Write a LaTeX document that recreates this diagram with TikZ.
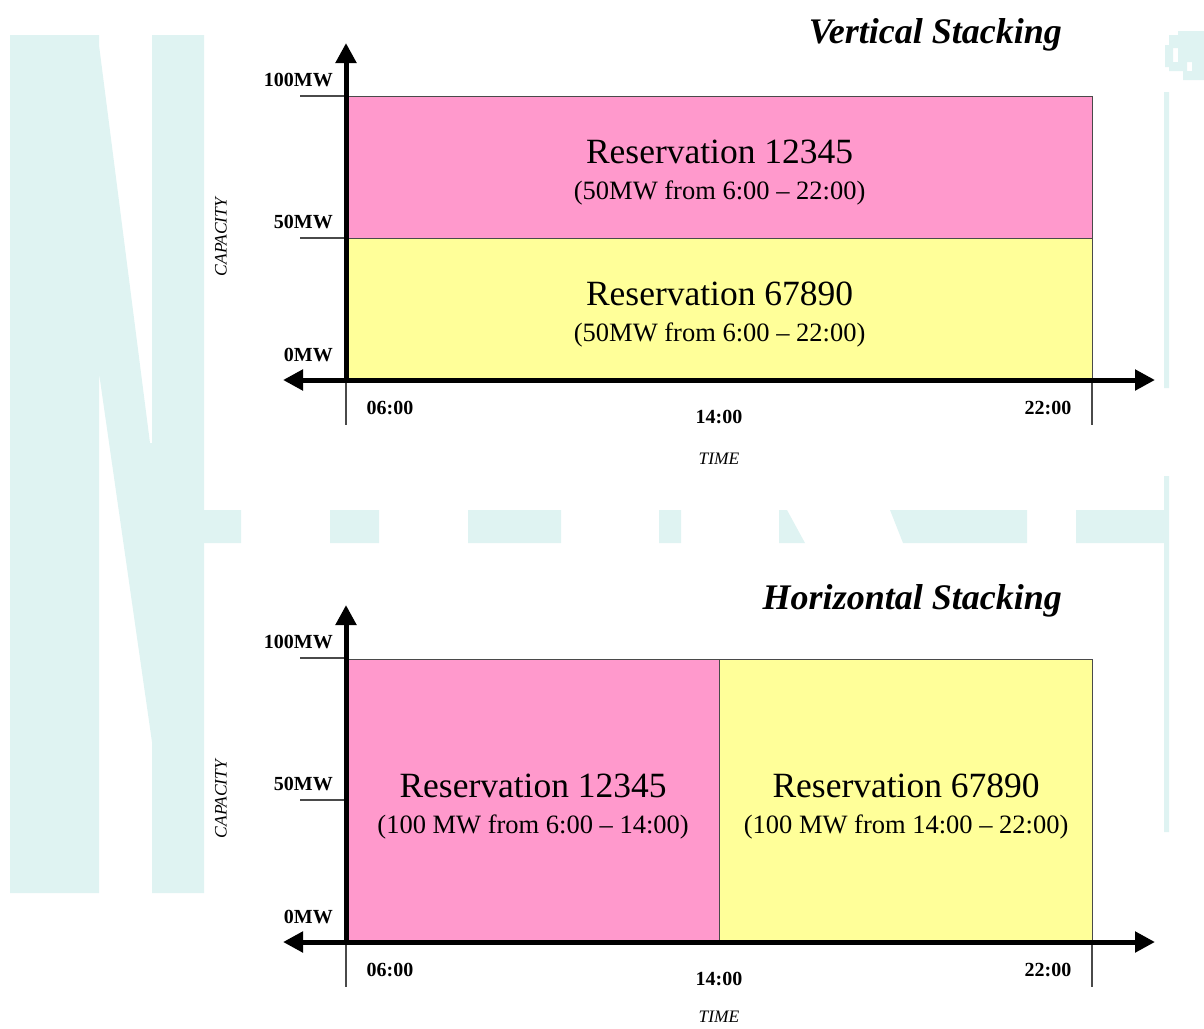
\documentclass[tikz,border=0pt]{standalone}
\usepackage{fontspec}
\setmainfont{Liberation Serif}
\usetikzlibrary{arrows.meta,positioning}
\definecolor{respink}{HTML}{FF99CC}
\definecolor{resyellow}{HTML}{FFFF99}
\definecolor{marklight}{HTML}{DFF3F2}
\definecolor{edgegray}{HTML}{4A4A4A}

\tikzset{
  axisline/.style={line width=5pt},
  tipend/.style={-{Triangle[length=20pt,width=20pt]}},
  tipboth/.style={{Triangle[length=20pt,width=20pt]}-{Triangle[length=20pt,width=20pt]}},
  tickline/.style={line width=1.1pt,edgegray},
  mwlabel/.style={anchor=east,inner sep=0pt,font=\fontsize{20}{24}\selectfont\bfseries},
  hourlabel/.style={inner sep=0pt,font=\fontsize{20}{24}\selectfont\bfseries},
  axislabel/.style={inner sep=0pt,font=\fontsize{17.5}{20}\selectfont\itshape},
  charttitle/.style={anchor=east,inner sep=0pt,font=\fontsize{36}{40}\selectfont\bfseries\itshape},
  resbox/.style={draw=edgegray,line width=1.2pt,inner sep=0pt,anchor=north west},
  restext/.style={align=center,inner sep=0pt,yshift=-5pt,font=\fontsize{35.5}{36}\selectfont},
}
\newcommand{\resspan}[1]{{\fontsize{26.5}{33}\selectfont #1}}

\begin{document}
\begin{tikzpicture}[x=1pt,y=-1pt]
  \useasboundingbox (0,0) rectangle (1204,1028);

  % faint mark behind the charts
  \fill[marklight] (10,35) -- (99,35) -- (99,45) -- (150,443) -- (152,443) -- (152,35)
    -- (204,35) -- (204,893) -- (152,893) -- (152,742) -- (99,373) -- (99,893) -- (10,893) -- cycle;
  \fill[marklight] (204,510) rectangle (241,543) (330,510) rectangle (379,543)
    (468,510) rectangle (561,543) (659,510) rectangle (681,543)
    (1076,510) rectangle (1164,543);
  \fill[marklight] (779,510) -- (787,510) -- (805,543) -- (779,543) -- cycle;
  \fill[marklight] (890,510) -- (1027,510) -- (1027,543) -- (903,543) -- cycle;
  \fill[marklight] (1164,92) rectangle (1169,388) (1164,476) rectangle (1169,832);
  \fill[marklight,even odd rule] (1178,31) -- (1204,31) -- (1204,80) -- (1183,80) -- (1183,71)
    -- (1169,71) -- (1169,67) -- (1165,67) -- (1165,45) -- (1169,45) -- (1169,35) -- (1178,35) -- cycle
    (1173,48) rectangle (1178,62) (1187,62) rectangle (1192,71);

  % vertical stacking
  \node[resbox,fill=respink,minimum width=746pt,minimum height=142pt] (v12345) at (346,96) {};
  \node[resbox,fill=resyellow,minimum width=746pt,minimum height=142pt] (v67890) at (346,238) {};
  \node[restext] (v12345txt) at (v12345.center) {Reservation 12345\\\resspan{(50MW from 6:00 -- 22:00)}};
  \node[restext] (v67890txt) at (v67890.center) {Reservation 67890\\\resspan{(50MW from 6:00 -- 22:00)}};

  % horizontal stacking
  \node[resbox,fill=respink,minimum width=373pt,minimum height=283pt] (h12345) at (346,659) {};
  \node[resbox,fill=resyellow,minimum width=373pt,minimum height=283pt] (h67890) at (719,659) {};
  \node[restext] (h12345txt) at (h12345.center) {Reservation 12345\\\resspan{(100 MW from 6:00 -- 14:00)}};
  \node[restext] (h67890txt) at (h67890.center) {Reservation 67890\\\resspan{(100 MW from 14:00 -- 22:00)}};

  \foreach \c/\oy/\ty/\tm/\ttl in {v/0/35/459/Vertical Stacking,h/562/601/1017/Horizontal Stacking}{
    \coordinate (\c-orig) at (346,380+\oy);
    \coordinate (\c-top) at (346,43+\oy);
    \coordinate (\c-left) at (283,380+\oy);
    \coordinate (\c-right) at (1155,380+\oy);
    \coordinate (\c-hi) at (300,96+\oy);
    \coordinate (\c-mid) at (300,238+\oy);
    \coordinate (\c-midend) at (346,238+\oy);
    \coordinate (\c-end) at (1092,380+\oy);
    \coordinate (\c-startdn) at (346,425+\oy);
    \coordinate (\c-enddn) at (1092,425+\oy);
    \draw[tickline] (\c-hi) -- (346,96+\oy);
    \draw[tickline] (\c-mid) -- (\c-midend);
    \draw[tickline] (\c-orig) -- (\c-startdn);
    \draw[tickline] (\c-end) -- (\c-enddn);
    \draw[axisline,tipend] (\c-orig) -- (\c-top);
    \draw[axisline,tipboth] (\c-left) -- (\c-right);
    \node[mwlabel] (\c-100mw) at (333,80+\oy) {100MW};
    \node[mwlabel] (\c-50mw) at (333,222+\oy) {50MW};
    \node[mwlabel] (\c-0mw) at (333,355+\oy) {0MW};
    \node[hourlabel] (\c-06) at (390,408+\oy) {06:00};
    \node[hourlabel] (\c-14) at (719,417+\oy) {14:00};
    \node[hourlabel] (\c-22) at (1048,408+\oy) {22:00};
    \node[axislabel] (\c-time) at (719,\tm) {TIME};
    \node[axislabel,rotate=90] (\c-cap) at (221,237+\oy) {CAPACITY};
    \node[charttitle] (\c-title) at (1062,\ty) {\ttl};
  }
\end{tikzpicture}
\end{document}
